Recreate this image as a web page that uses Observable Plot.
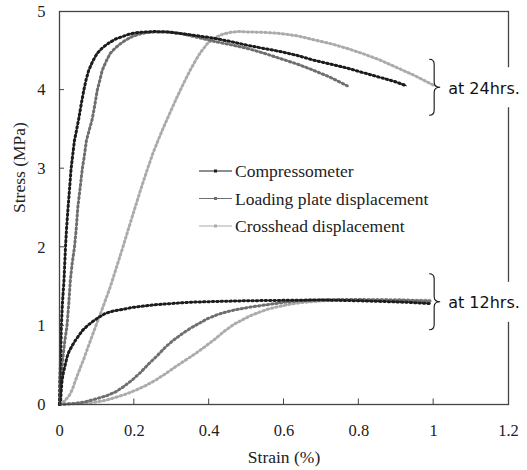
<!DOCTYPE html>
<html>
<head>
<meta charset="utf-8">
<script src="https://cdn.jsdelivr.net/npm/d3@7"></script>
<script src="https://cdn.jsdelivr.net/npm/@observablehq/plot@0.6"></script>
<style>
  html, body { margin: 0; padding: 0; background: #fff; }
</style>
</head>
<body>
<div id="chart"></div>
<script>
// ---- data (strain %, stress MPa) ----
const seriesNames = ["Compressometer", "Loading plate displacement", "Crosshead displacement"];
const seriesColors = ["#1c1c1c", "#6f6f6f", "#ababab"];

const compressometer24 = [[0,0],[0.001,0.3],[0.003,0.6],[0.005,1.0],[0.008,1.3],[0.012,1.58],[0.016,2.0],[0.019,2.25],[0.023,2.51],[0.027,2.75],[0.031,3.0],[0.036,3.2],[0.040,3.36],[0.046,3.5],[0.052,3.65],[0.058,3.82],[0.065,4.0],[0.071,4.13],[0.078,4.25],[0.089,4.37],[0.101,4.47],[0.115,4.54],[0.132,4.6],[0.15,4.65],[0.168,4.68],[0.185,4.71],[0.203,4.73],[0.23,4.74],[0.257,4.745],[0.29,4.74],[0.324,4.72],[0.37,4.69],[0.413,4.66],[0.46,4.615],[0.502,4.57],[0.546,4.53],[0.591,4.49],[0.636,4.44],[0.68,4.38],[0.725,4.33],[0.769,4.28],[0.813,4.22],[0.858,4.16],[0.895,4.11],[0.927,4.055]];
const loadingPlate24 = [[0,0],[0.004,0.3],[0.008,0.55],[0.014,0.8],[0.02,1.0],[0.025,1.3],[0.029,1.58],[0.034,1.8],[0.040,2.0],[0.045,2.25],[0.049,2.51],[0.055,2.75],[0.061,3.0],[0.066,3.15],[0.072,3.36],[0.080,3.5],[0.087,3.62],[0.094,3.8],[0.101,4.0],[0.108,4.13],[0.114,4.25],[0.125,4.37],[0.136,4.47],[0.15,4.54],[0.163,4.59],[0.178,4.64],[0.194,4.68],[0.212,4.71],[0.23,4.73],[0.257,4.74],[0.284,4.74],[0.324,4.72],[0.37,4.67],[0.413,4.62],[0.46,4.575],[0.502,4.53],[0.546,4.47],[0.591,4.40],[0.636,4.33],[0.68,4.25],[0.725,4.16],[0.769,4.055]];
const crosshead24 = [[0,0],[0.015,0.05],[0.027,0.12],[0.035,0.2],[0.043,0.31],[0.055,0.46],[0.065,0.58],[0.074,0.7],[0.084,0.83],[0.094,0.96],[0.105,1.1],[0.116,1.24],[0.126,1.37],[0.136,1.5],[0.152,1.74],[0.168,1.98],[0.184,2.23],[0.199,2.46],[0.216,2.72],[0.234,2.98],[0.25,3.2],[0.266,3.39],[0.282,3.57],[0.297,3.73],[0.315,3.92],[0.332,4.09],[0.35,4.26],[0.364,4.38],[0.377,4.48],[0.395,4.59],[0.413,4.66],[0.435,4.71],[0.457,4.735],[0.48,4.745],[0.502,4.74],[0.546,4.735],[0.591,4.72],[0.636,4.69],[0.68,4.64],[0.725,4.59],[0.769,4.53],[0.813,4.46],[0.858,4.38],[0.9,4.29],[0.947,4.19],[0.98,4.11],[1.005,4.05]];

const compressometer12 = [[0,0],[0.003,0.05],[0.005,0.2],[0.007,0.31],[0.011,0.42],[0.016,0.52],[0.02,0.6],[0.025,0.67],[0.034,0.75],[0.043,0.82],[0.052,0.88],[0.061,0.94],[0.074,1.0],[0.087,1.05],[0.105,1.11],[0.123,1.16],[0.145,1.19],[0.168,1.21],[0.195,1.235],[0.221,1.25],[0.257,1.27],[0.3,1.285],[0.345,1.3],[0.41,1.31],[0.5,1.32],[0.6,1.325],[0.7,1.33],[0.8,1.32],[0.87,1.31],[0.93,1.3],[0.99,1.285]];
const loadingPlate12 = [[0,0],[0.043,0.015],[0.07,0.035],[0.096,0.07],[0.125,0.11],[0.15,0.16],[0.172,0.23],[0.194,0.31],[0.217,0.41],[0.239,0.52],[0.261,0.62],[0.283,0.73],[0.305,0.82],[0.328,0.9],[0.35,0.97],[0.372,1.03],[0.395,1.09],[0.42,1.14],[0.44,1.17],[0.465,1.2],[0.51,1.24],[0.555,1.27],[0.6,1.3],[0.644,1.32],[0.7,1.33],[0.75,1.335],[0.8,1.335],[0.9,1.33],[0.99,1.315]];
const crosshead12 = [[0,0],[0.043,0.01],[0.096,0.03],[0.125,0.055],[0.15,0.09],[0.176,0.13],[0.203,0.18],[0.23,0.24],[0.257,0.31],[0.283,0.39],[0.31,0.48],[0.337,0.565],[0.364,0.65],[0.39,0.74],[0.415,0.83],[0.44,0.93],[0.466,1.02],[0.49,1.08],[0.51,1.13],[0.535,1.175],[0.555,1.21],[0.58,1.24],[0.6,1.26],[0.62,1.28],[0.644,1.295],[0.69,1.315],[0.733,1.325],[0.8,1.33],[0.9,1.33],[0.99,1.325]];

const xTicks = [0, 0.2, 0.4, 0.6, 0.8, 1, 1.2];
const yTicks = [0, 1, 2, 3, 4, 5];

// annotation groups: label, stress at brace tip, strain of brace
const groupLabels = ["at 24hrs.", "at 12hrs."];
const groupTipStress = [4.03, 1.30];
const groupBraceStrain = 1.0;

// ---- build ----
const curves = [
  {series: 2, data: crosshead24},
  {series: 2, data: crosshead12},
  {series: 1, data: loadingPlate24},
  {series: 1, data: loadingPlate12},
  {series: 0, data: compressometer24},
  {series: 0, data: compressometer12}
];

const serif = "'Liberation Serif', 'Times New Roman', serif";
const sans = "'DejaVu Sans', sans-serif";

const curveMarks = curves.flatMap(c => [
  Plot.line(c.data, {x: d => d[0], y: d => d[1], stroke: seriesColors[c.series], strokeWidth: 1}),
  Plot.line(c.data, {x: d => d[0], y: d => d[1], stroke: seriesColors[c.series], strokeWidth: 3, strokeDasharray: "1.4,3"})
]);

function innerTicks(index, scales, values, dims) {
  const g = d3.create("svg:g").attr("stroke", "#444").attr("stroke-width", 1);
  const y0 = dims.height - dims.marginBottom;
  const x0 = dims.marginLeft;
  for (const t of xTicks.slice(1, -1)) {
    const x = scales.x(t);
    g.append("line").attr("x1", x).attr("x2", x).attr("y1", y0).attr("y2", y0 - 5.5);
  }
  for (const t of yTicks.slice(1, -1)) {
    const y = scales.y(t);
    g.append("line").attr("x1", x0).attr("x2", x0 + 5).attr("y1", y).attr("y2", y);
  }
  return g.node();
}

function legend(index, scales, values, dims) {
  const g = d3.create("svg:g");
  const lx = dims.marginLeft + 140, ly = dims.marginTop + 160, step = 27.5;
  seriesNames.forEach((name, i) => {
    const y = ly + i * step;
    g.append("line").attr("x1", lx).attr("x2", lx + 33).attr("y1", y).attr("y2", y)
      .attr("stroke", seriesColors[i]).attr("stroke-width", 1);
    g.append("rect").attr("x", lx + 15).attr("y", y - 1.5).attr("width", 3).attr("height", 3)
      .attr("fill", seriesColors[i]);
    g.append("text").attr("x", lx + 36).attr("y", y).attr("dy", "0.35em")
      .attr("text-anchor", "start")
      .attr("font-family", serif).attr("font-size", 17.5).attr("fill", "#222").text(name);
  });
  return g.node();
}

function braces(index, scales, values, dims) {
  const g = d3.create("svg:g");
  groupLabels.forEach((label, i) => {
    const xs = scales.x(groupBraceStrain) + 1;
    const ym = scales.y(groupTipStress[i]);
    const h = 28, hook = 5, tip = 6, r = 5;
    // white label box (covers frame)
    g.append("rect").attr("x", xs + tip + 3).attr("y", ym - 20).attr("width", 80).attr("height", 40)
      .attr("fill", "white");
    const p = d3.path();
    p.moveTo(xs - hook, ym - h);
    p.quadraticCurveTo(xs, ym - h, xs, ym - h + r);
    p.lineTo(xs, ym - r);
    p.quadraticCurveTo(xs, ym, xs + tip, ym);
    p.quadraticCurveTo(xs, ym, xs, ym + r);
    p.lineTo(xs, ym + h - r);
    p.quadraticCurveTo(xs, ym + h, xs - hook, ym + h);
    g.append("path").attr("d", p.toString()).attr("fill", "none").attr("stroke", "#111").attr("stroke-width", 1.1);
    g.append("text").attr("x", xs + tip + 8).attr("y", ym + 1).attr("dy", "0.35em")
      .attr("text-anchor", "start")
      .attr("font-family", sans).attr("font-size", 16).attr("fill", "#111").text(label);
  });
  return g.node();
}

const chart = Plot.plot({
  width: 527,
  height: 470,
  marginLeft: 59,
  marginRight: 19,
  marginTop: 11,
  marginBottom: 66,
  style: {fontFamily: serif, fontSize: "16px", background: "white", color: "#222"},
  x: {domain: [0, 1.2]},
  y: {domain: [0, 5]},
  marks: [
    ...curveMarks,
    Plot.frame({stroke: "#444", strokeWidth: 1.3}),
    innerTicks,
    Plot.axisX(xTicks, {tickSize: 0, tickPadding: 20, tickFormat: d => String(d), label: null, fontSize: 16.5}),
    Plot.axisY(yTicks, {tickSize: 0, tickPadding: 14, tickFormat: d => String(d), label: null, fontSize: 16.5}),
    Plot.text(["Strain (%)"], {frameAnchor: "bottom", dy: 58, fontSize: 17.5, fill: "#222"}),
    Plot.text(["Stress (MPa)"], {frameAnchor: "left", dx: -40, dy: 5, rotate: -90, fontSize: 17.5, fill: "#222"}),
    legend,
    braces
  ]
});
document.getElementById("chart").appendChild(chart);
</script>
</body>
</html>
